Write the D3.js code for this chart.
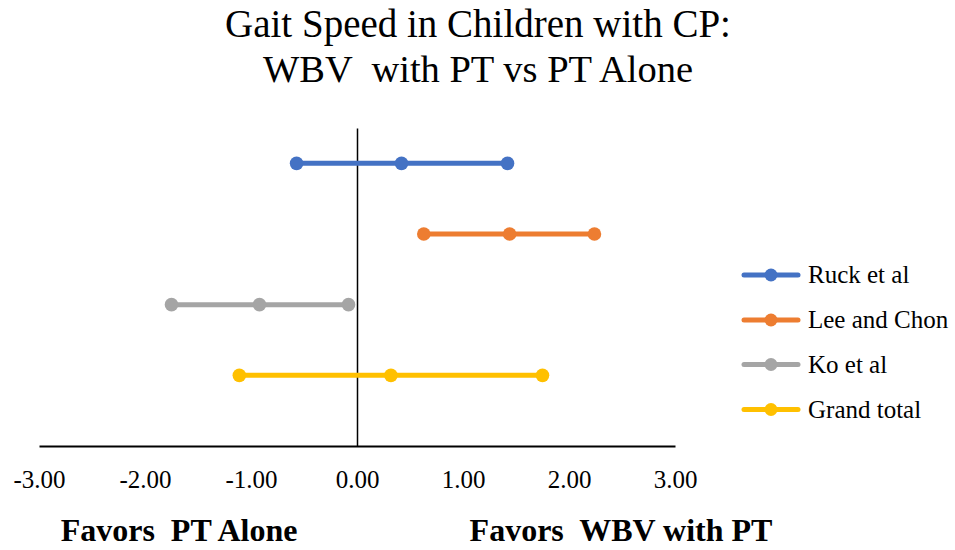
<!DOCTYPE html>
<html>
<head>
<meta charset="utf-8">
<script src="https://cdn.jsdelivr.net/npm/d3@7"></script>
<style>
  body { margin: 0; background: #fff; }
</style>
</head>
<body>
<div class="chart-div"></div>
<script>
//--------------------------- Data

var studies = ["Ruck et al", "Lee and Chon", "Ko et al", "Grand total"]
var rowPos = [4, 3, 2, 1]
var lower = [-0.57, 0.63, -1.75, -1.11]
var mean = [0.42, 1.44, -0.92, 0.32]
var upper = [1.42, 2.24, -0.08, 1.75]
var colors = ["#4472C4", "#ED7D31", "#A5A5A5", "#FFC000"]
var xTicks = [-3, -2, -1, 0, 1, 2, 3]

//--------------------------- SVG definition

var width = 955;
var height = 550;
var font = "'Liberation Serif', serif"

var svg = d3.select("div.chart-div")
    .append("svg")
    .attr("width", width)
    .attr("height", height)

var x = d3.scaleLinear().domain([-3, 3]).range([39, 675])
var y = d3.scaleLinear().domain([0, 4.5]).range([446, 128])

//--------------------------- Title

var title = svg.append("g")
title.append("text")
    .attr("x", 478).attr("y", 37)
    .attr("text-anchor", "middle")
    .style("font-family", font).style("font-size", "39px")
    .text("Gait Speed in Children with CP:")
title.append("text")
    .attr("x", 478).attr("y", 82)
    .attr("text-anchor", "middle")
    .style("font-family", font).style("font-size", "38.5px")
    .style("white-space", "pre")
    .text("WBV  with PT vs PT Alone")

//--------------------------- Axes

var xAxis = svg.append("g")
    .attr("transform", "translate(0," + y(0) + ")")
    .call(d3.axisBottom(x).tickValues(xTicks).tickSize(0).tickPadding(24)
        .tickFormat(function (d) { return d.toFixed(2); }))
xAxis.select(".domain").attr("stroke", "#000").attr("stroke-width", 2)
xAxis.selectAll("text")
    .style("font-family", font).style("font-size", "25px").attr("fill", "#000")
    .attr("dy", null).attr("y", 42)

var yAxis = svg.append("g")
    .attr("transform", "translate(" + x(0) + ",0)")
    .call(d3.axisLeft(y).tickValues([]).tickSize(0))
yAxis.select(".domain").attr("stroke", "#000").attr("stroke-width", 1.5)

//--------------------------- Study lines and markers

var rows = svg.append("g")
for (k = 0; k < studies.length; k++) {
    var pts = [lower[k], mean[k], upper[k]]
    rows.append("line")
        .attr("x1", x(lower[k])).attr("x2", x(upper[k]))
        .attr("y1", y(rowPos[k])).attr("y2", y(rowPos[k]))
        .attr("stroke", colors[k]).attr("stroke-width", 5)
        .attr("stroke-linecap", "round")
    rows.selectAll("circle.s" + k).data(pts).enter()
        .append("circle")
        .attr("cx", function (d) { return x(d); })
        .attr("cy", y(rowPos[k]))
        .attr("r", 6.8)
        .attr("fill", colors[k])
}

//--------------------------- Legend

var legend = svg.append("g")
var legendY = [275, 320, 364.5, 409.5]
for (k = 0; k < studies.length; k++) {
    legend.append("line")
        .attr("x1", 744).attr("x2", 798)
        .attr("y1", legendY[k]).attr("y2", legendY[k])
        .attr("stroke", colors[k]).attr("stroke-width", 5)
        .attr("stroke-linecap", "round")
    legend.append("circle")
        .attr("cx", 771).attr("cy", legendY[k]).attr("r", 6.5)
        .attr("fill", colors[k])
    legend.append("text")
        .attr("x", 808).attr("y", legendY[k] + 8)
        .style("font-family", font).style("font-size", "25px")
        .text(studies[k])
}

//--------------------------- Favors labels

svg.append("text")
    .attr("x", 179).attr("y", 541)
    .attr("text-anchor", "middle")
    .style("font-family", font).style("font-size", "32px").style("font-weight", "bold")
    .style("white-space", "pre")
    .text("Favors  PT Alone")
svg.append("text")
    .attr("x", 621).attr("y", 541)
    .attr("text-anchor", "middle")
    .style("font-family", font).style("font-size", "32px").style("font-weight", "bold")
    .style("white-space", "pre")
    .text("Favors  WBV with PT")
</script>
</body>
</html>
